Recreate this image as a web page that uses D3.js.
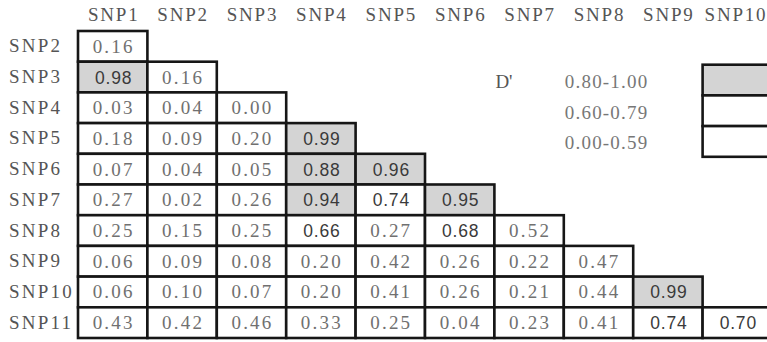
<html>
<head>
<style>
  body { margin: 0; background: #fff; }
  svg text { font-family: "Liberation Serif", "DejaVu Serif", serif; }
</style>
</head>
<body>
<div id="chart"></div>
<script src="https://d3js.org/d3.v7.min.js"></script>
<script>
// column / row SNP labels
var colLabels = ["SNP1","SNP2","SNP3","SNP4","SNP5","SNP6","SNP7","SNP8","SNP9","SNP10"];
var rowLabels = ["SNP2","SNP3","SNP4","SNP5","SNP6","SNP7","SNP8","SNP9","SNP10","SNP11"];

// pairwise D' values, lower triangle, one row per SNP
var snp2  = [0.16];
var snp3  = [0.98, 0.16];
var snp4  = [0.03, 0.04, 0.00];
var snp5  = [0.18, 0.09, 0.20, 0.99];
var snp6  = [0.07, 0.04, 0.05, 0.88, 0.96];
var snp7  = [0.27, 0.02, 0.26, 0.94, 0.74, 0.95];
var snp8  = [0.25, 0.15, 0.25, 0.66, 0.27, 0.68, 0.52];
var snp9  = [0.06, 0.09, 0.08, 0.20, 0.42, 0.26, 0.22, 0.47];
var snp10 = [0.06, 0.10, 0.07, 0.20, 0.41, 0.26, 0.21, 0.44, 0.99];
var snp11 = [0.43, 0.42, 0.46, 0.33, 0.25, 0.04, 0.23, 0.41, 0.74, 0.70];
var rows = [snp2, snp3, snp4, snp5, snp6, snp7, snp8, snp9, snp10, snp11];

// legend ranges
var legendLabels = ["0.80-1.00", "0.60-0.79", "0.00-0.59"];
var legendMin = [0.80, 0.60, 0.00];

var width = 767, height = 342;
var gridLeft = 78, gridTop = 31, cellW = 69.4, cellH = 30.7;

var svg = d3.select("#chart").append("svg")
  .attr("width", width)
  .attr("height", height);

var x = d3.scaleBand().domain(colLabels)
  .range([gridLeft, gridLeft + cellW * colLabels.length]).padding(0);
var y = d3.scaleBand().domain(rowLabels)
  .range([gridTop, gridTop + cellH * rowLabels.length]).padding(0);

var fill = d3.scaleThreshold().domain([0.8]).range(["#fff", "#d4d4d4"]);

var cells = [];
rows.forEach(function(vals, r) {
  vals.forEach(function(v, c) {
    cells.push({row: rowLabels[r], col: colLabels[c], value: v});
  });
});

// header
svg.selectAll(".colLab").data(colLabels).enter().append("text")
  .attr("x", d => Math.min(x(d) + x.bandwidth() / 2 + 1, width - 31))
  .attr("y", 21)
  .attr("text-anchor", "middle")
  .attr("font-size", 19)
  .attr("letter-spacing", 1.8)
  .attr("fill", "#555")
  .text(d => d);

svg.selectAll(".rowLab").data(rowLabels).enter().append("text")
  .attr("x", 9)
  .attr("y", d => y(d) + y.bandwidth() / 2 + 6)
  .attr("font-size", 19)
  .attr("letter-spacing", 2.2)
  .attr("fill", "#555")
  .text(d => d);

// cells
var g = svg.append("g");
g.selectAll("rect").data(cells).enter().append("rect")
  .attr("x", d => x(d.col))
  .attr("y", d => y(d.row))
  .attr("width", x.bandwidth())
  .attr("height", y.bandwidth())
  .attr("fill", d => fill(d.value))
  .attr("stroke", "#161616")
  .attr("stroke-width", 2.6);

g.selectAll("text").data(cells).enter().append("text")
  .attr("x", d => x(d.col) + x.bandwidth() / 2 + 1)
  .attr("y", d => y(d.row) + y.bandwidth() / 2 + 6.5)
  .attr("text-anchor", "middle")
  .attr("font-size", d => d.value >= 0.6 ? 17.5 : 19)
  .attr("letter-spacing", d => d.value >= 0.6 ? 0.8 : 2.2)
  .style("font-family", d => d.value >= 0.6 ? "'Liberation Sans', Arial, sans-serif" : null)
  .attr("fill", d => d.value >= 0.6 ? "#3a3a3a" : "#707070")
  .text(d => d3.format(".2f")(d.value));

// legend
svg.append("text")
  .attr("x", x("SNP7") + 1)
  .attr("y", y("SNP3") + y.bandwidth() / 2 + 11)
  .attr("font-size", 19)
  .attr("fill", "#555")
  .text("D'");

svg.selectAll(".legLab").data(legendLabels).enter().append("text")
  .attr("x", x("SNP8") + 1)
  .attr("y", (d, i) => y(rowLabels[i + 1]) + y.bandwidth() / 2 + 11)
  .attr("font-size", 19)
  .attr("letter-spacing", 1.2)
  .attr("fill", "#777")
  .text(d => d);

svg.selectAll(".legBox").data(legendMin).enter().append("rect")
  .attr("x", x("SNP10"))
  .attr("y", (d, i) => y(rowLabels[i + 1]) + 3)
  .attr("width", x.bandwidth())
  .attr("height", y.bandwidth())
  .attr("fill", d => fill(d))
  .attr("stroke", "#161616")
  .attr("stroke-width", 2.6);
</script>
</body>
</html>
